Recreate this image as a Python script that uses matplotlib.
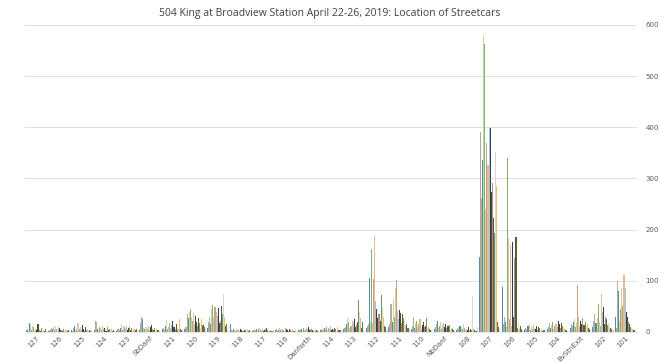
import numpy as np
import matplotlib
matplotlib.use("Agg")
import matplotlib.pyplot as plt

# === Fermate (categorie asse x) ===
stops = ["127", "126", "125", "124", "123", "SbDanf", "121", "120", "119", "118",
         "117", "116", "Danforth", "114", "113", "112", "111", "110", "NbDanf",
         "108", "107", "106", "105", "104", "BvStnExit", "102", "101"]

# === Conteggi per fermata (una colonna per serie, 20 serie) ===
c127 = [3, 6, 2, 17, 15, 4, 12, 9, 2, 5, 3, 16, 4, 2, 7, 1, 3, 2, 5, 1]
c126 = [2, 4, 8, 6, 10, 3, 12, 5, 2, 9, 7, 4, 3, 1, 6, 2, 3, 1, 4, 2]
c125 = [4, 2, 7, 12, 6, 3, 18, 5, 9, 4, 14, 6, 2, 10, 3, 5, 2, 4, 1, 3]
c124 = [3, 22, 20, 6, 4, 10, 8, 3, 12, 5, 7, 2, 9, 4, 6, 3, 5, 2, 4, 1]
c123 = [2, 5, 3, 8, 15, 4, 12, 9, 6, 11, 3, 7, 10, 4, 8, 2, 5, 3, 6, 2]
c_sb = [4, 18, 30, 26, 8, 5, 10, 6, 12, 4, 9, 14, 5, 3, 8, 2, 6, 4, 3, 2]
c121 = [5, 8, 3, 12, 24, 6, 10, 18, 7, 14, 22, 9, 5, 15, 4, 8, 26, 6, 3, 4]
c120 = [6, 10, 35, 28, 40, 45, 30, 22, 38, 15, 32, 20, 12, 28, 18, 8, 25, 14, 10, 5]
c119 = [8, 20, 30, 15, 45, 52, 28, 48, 40, 32, 46, 18, 22, 50, 35, 74, 30, 12, 16, 6]
c118 = [16, 3, 2, 5, 4, 2, 6, 3, 4, 2, 5, 3, 2, 4, 3, 2, 5, 1, 3, 2]
c117 = [2, 4, 3, 6, 2, 5, 8, 3, 4, 6, 2, 3, 5, 7, 4, 2, 3, 1, 2, 4]
c116 = [3, 5, 2, 4, 8, 3, 6, 4, 2, 7, 5, 3, 2, 6, 4, 3, 5, 2, 1, 3]
c_dan = [4, 3, 6, 5, 2, 8, 4, 3, 7, 5, 9, 3, 6, 4, 2, 5, 3, 4, 2, 1]
c114 = [3, 6, 4, 8, 5, 10, 3, 7, 5, 12, 4, 6, 3, 8, 5, 2, 9, 4, 3, 2]
c113 = [5, 8, 10, 15, 28, 20, 8, 12, 22, 18, 25, 10, 14, 20, 63, 40, 27, 8, 20, 4]
c112 = [8, 12, 15, 105, 20, 162, 18, 104, 188, 60, 45, 28, 35, 22, 73, 47, 30, 12, 10, 6]
c111 = [10, 15, 55, 20, 65, 30, 86, 102, 42, 25, 43, 38, 18, 35, 28, 22, 12, 15, 8, 5]
c110 = [5, 12, 30, 8, 18, 22, 10, 15, 25, 6, 14, 20, 9, 12, 28, 7, 10, 5, 4, 3]
c_nb = [6, 10, 15, 22, 8, 12, 20, 5, 14, 18, 9, 16, 7, 11, 13, 4, 8, 6, 3, 2]
c108 = [4, 8, 6, 12, 10, 5, 15, 8, 3, 6, 4, 10, 2, 5, 3, 70, 6, 4, 2, 10]
c107 = [147, 390, 262, 337, 578, 563, 240, 370, 327, 400, 398, 274, 292, 223, 194, 352, 285, 20, 10, 5]
c106 = [88, 15, 30, 20, 10, 340, 184, 25, 170, 12, 175, 30, 145, 185, 8, 20, 5, 12, 6, 4]
c105 = [3, 8, 5, 12, 15, 4, 10, 6, 14, 8, 5, 12, 3, 9, 7, 4, 6, 2, 3, 1]
c104 = [5, 10, 18, 8, 14, 20, 6, 12, 16, 9, 22, 15, 7, 18, 11, 5, 8, 4, 3, 2]
c_bv = [8, 15, 12, 20, 25, 10, 18, 92, 30, 12, 22, 16, 28, 14, 20, 10, 15, 8, 6, 4]
c102 = [10, 22, 35, 18, 28, 55, 20, 12, 75, 40, 48, 15, 30, 25, 14, 18, 10, 8, 5, 4]
c101 = [30, 8, 100, 80, 20, 45, 85, 50, 112, 85, 40, 30, 20, 15, 10, 8, 5, 4, 3, 2]

colors = ["#5b86ad", "#a8a8a8", "#b9ad94", "#4f8fa0", "#c5d8a0",
          "#86ad74", "#d9c9a8", "#c4a47a", "#e6b98e", "#a7c3dc",
          "#26415a", "#4e4a2a", "#b88a78", "#5c5a32", "#6f9a66",
          "#d8d8d8", "#e3c56a", "#8a5a38", "#3d8a7a", "#e8d49a"]

rows = [c127, c126, c125, c124, c123, c_sb, c121, c120, c119, c118, c117, c116,
        c_dan, c114, c113, c112, c111, c110, c_nb, c108, c107, c106, c105, c104,
        c_bv, c102, c101]
data = np.array(rows)  # (fermate, serie)

fig = plt.figure(figsize=(6.6, 3.63), dpi=100)
ax = fig.add_axes([0.038, 0.0854, 0.927, 0.846])

n_cat, n_ser = data.shape
x = np.arange(n_cat)
w = 0.94 / n_ser
for s in range(n_ser):
    ax.bar(x - 0.47 + w * (s + 0.5), data[:, s], width=w,
           color=colors[s % len(colors)], linewidth=0, zorder=3)

ax.set_xlim(-0.5, n_cat - 0.5)
ax.set_ylim(0, 600)
ax.set_yticks(range(0, 601, 100))
ax.yaxis.tick_right()
ax.tick_params(axis="y", length=0, labelsize=5, labelcolor="#595959", pad=6)
ax.grid(axis="y", color="#e0e0e0", linewidth=0.8, zorder=0)

ax.set_xticks(x)
ax.set_xticklabels(stops, rotation=45, ha="right", rotation_mode="anchor",
                   fontsize=5, color="#595959")
ax.tick_params(axis="x", length=0, pad=2)

for side in ["top", "left", "right"]:
    ax.spines[side].set_visible(False)
ax.spines["bottom"].set_color("#e6e6e6")
ax.spines["bottom"].set_linewidth(0.8)

fig.text(0.5, 0.962, "504 King at Broadview Station April 22-26, 2019: Location of Streetcars",
         ha="center", va="center", fontsize=7.5, color="#404040", family="Open Sans")

fig.savefig("out.png", dpi=100)
